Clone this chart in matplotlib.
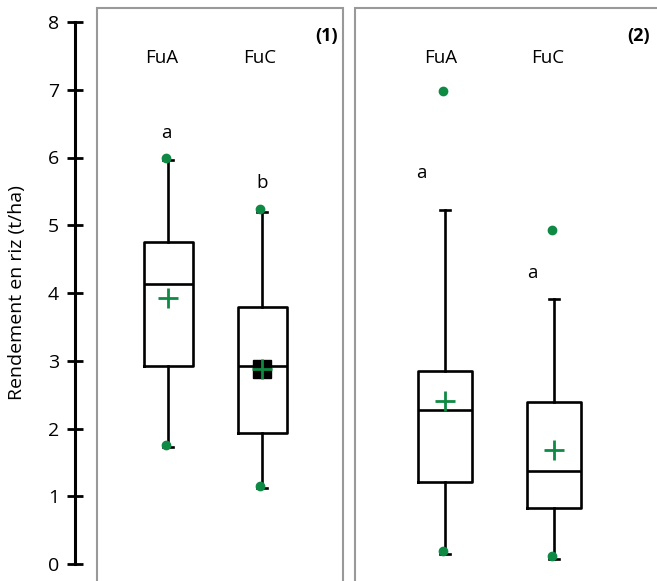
import matplotlib.pyplot as plt
from matplotlib.patches import Rectangle

plt.rcParams['font.family'] = ['Open Sans', 'DejaVu Sans']

# data (t/ha)
groups = ['FuA', 'FuC', 'FuA', 'FuC']
panels = ['(1)', '(2)']
q1 = [2.92, 1.93, 1.21, 0.83]
med = [4.14, 2.92, 2.27, 1.37]
q3 = [4.75, 3.80, 2.85, 2.39]
whislo = [1.72, 1.12, 0.15, 0.08]
whishi = [5.97, 5.20, 5.23, 3.91]
means = [3.92, 2.88, 2.41, 1.68]
points = [[6.0, 1.75], [5.24, 1.15], [6.98, 0.19], [4.93, 0.12]]
letters = ['a', 'b', 'a', 'a']
letter_y = [6.36, 5.62, 5.77, 4.3]

green = '#0f8a44'

fig = plt.figure(figsize=(6.57, 5.81), dpi=100)
ax = fig.add_axes([75 / 657, 17 / 581, 582 / 657, 542 / 581])
ax.set_xlim(0, 582)
ax.set_ylim(0, 8)

# x positions in axes units (pixels from the y axis)
pos = [93, 187, 370, 479]
widths = [49, 49, 54, 54]
letter_x = [91, 187, 346, 457]
label_x = [87, 185, 366, 473]

stats = []
for i in range(4):
    stats.append(dict(med=med[i], q1=q1[i], q3=q3[i], whislo=whislo[i],
                      whishi=whishi[i], fliers=[], mean=means[i]))

lw = 1.9
ax.bxp(stats, positions=pos, widths=widths, showmeans=False,
       showfliers=False, capwidths=10, manage_ticks=False,
       boxprops=dict(color='black', linewidth=lw),
       whiskerprops=dict(color='black', linewidth=lw),
       capprops=dict(color='black', linewidth=lw),
       medianprops=dict(color='black', linewidth=lw))

# black square behind mean of FuC (1)
ax.plot(pos[1], means[1], marker='s', color='black', markersize=13, zorder=4)

for i in range(4):
    ax.plot([pos[i] - 2] * len(points[i]), points[i], 'o', color=green,
            markersize=6, zorder=5)
    ax.plot(pos[i], means[i], marker='+', color=green, markersize=14,
            markeredgewidth=2, zorder=6)
    ax.text(label_x[i], 7.47, groups[i], ha='center', va='center', fontsize=13.5)
    ax.text(letter_x[i], letter_y[i], letters[i], ha='center', va='center',
            fontsize=13.5)

# panel frames
for x0, x1 in [(22, 268), (280, 640)]:
    ax.add_patch(Rectangle((x0, -1), x1 - x0, 9.21, fill=False,
                           edgecolor='#999999', linewidth=1.5, clip_on=False))
ax.text(263, 7.8, panels[0], ha='right', va='center', fontsize=13, fontweight='bold')
ax.text(575, 7.8, panels[1], ha='right', va='center', fontsize=13, fontweight='bold')

for s in ['top', 'right', 'bottom']:
    ax.spines[s].set_visible(False)
ax.spines['left'].set_linewidth(2.2)
ax.set_xticks([])
ax.set_yticks(range(9))
ax.tick_params(axis='y', direction='inout', length=11, width=2, labelsize=14, pad=6)
ax.set_ylabel('Rendement en riz (t/ha)', fontsize=14, labelpad=16)

fig.savefig('out.png', dpi=100)
